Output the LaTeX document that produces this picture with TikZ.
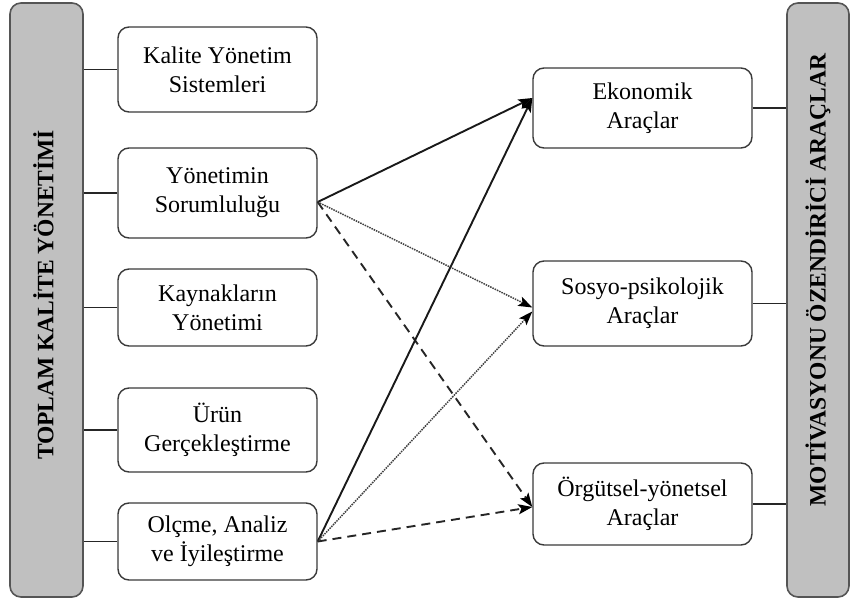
\documentclass[tikz,border=0pt]{standalone}
\usepackage{fontspec}
\setmainfont{Liberation Serif}
\usetikzlibrary{arrows.meta,calc}
\definecolor{barfill}{HTML}{C0C0C0}
\definecolor{barline}{HTML}{555555}
\definecolor{boxline}{HTML}{3A3A3A}
\begin{document}
\begin{tikzpicture}[x=1bp,y=-1bp,
  bar/.style={draw=barline, fill=barfill, line width=1.6bp, rounded corners=11bp, inner sep=0pt},
  bartext/.style={font=\bfseries\fontsize{23.5bp}{28bp}\selectfont, inner sep=0pt},
  box/.style={draw=boxline, fill=white, line width=1.4bp, rounded corners=11bp, align=center,
              font=\fontsize{24bp}{29bp}\selectfont, inner sep=0pt},
  lbox/.style={box, minimum width=199bp},
  rbox/.style={box, minimum width=219bp},
  link/.style={draw=black!85, line width=1.5bp},
  arr/.style={-{Stealth[length=14bp,width=10bp,inset=3bp,color=black]}},
  solidarr/.style={arr, line width=1.9bp, draw=black!90},
  dotarr/.style={arr, line width=1.5bp, densely dotted, draw=black!75},
  dasharr/.style={arr, line width=1.9bp, dash pattern=on 9bp off 6bp, draw=black!85}
]
\useasboundingbox (0,0) rectangle (850,602);

% bars
\node[bar, minimum width=73bp, minimum height=594bp] (L) at (46.5,300) {};
\node[bartext, rotate=90] (Lt) at ([xshift=-3bp,yshift=5bp]L.center) {TOPLAM KALİTE YÖNETİMİ};
\node[bar, minimum width=62bp, minimum height=594bp] (R) at (818,300) {};
\node[bartext, rotate=90] (Rt) at ([yshift=20bp]R.center) {MOTİVASYONU ÖZENDİRİCİ ARAÇLAR};

% left boxes
\node[lbox, minimum height=85bp] (b1) at (217.5,69.5) {Kalite Yönetim\\Sistemleri};
\node[lbox, minimum height=90bp] (b2) at (217.5,193) {Yönetimin\\Sorumluluğu};
\node[lbox, minimum height=77bp] (b3) at (217.5,307.5) {Kaynakların\\Yönetimi};
\node[lbox, minimum height=84bp] (b4) at (217.5,430) {Ürün\\Gerçekleştirme};
\node[lbox, minimum height=77bp] (b5) at (217.5,541.5) {Olçme, Analiz\\ve İyileştirme};

% right boxes
\node[rbox, minimum height=80bp] (r1) at (642.5,108) {Ekonomik\\Araçlar};
\node[rbox, minimum height=85bp] (r2) at (642.5,303.5) {Sosyo-psikolojik\\Araçlar};
\node[rbox, minimum height=82bp] (r3) at (642.5,504) {Örgütsel-yönetsel\\Araçlar};

% links bar - boxes
\foreach \b in {b1,b2,b3,b4,b5}{
  \draw[link] (\b.west) -- (\b.west -| L.east);
}
\foreach \b in {r1,r2,r3}{
  \draw[link] (\b.east) -- (\b.east -| R.west);
}

% arrow end points
\coordinate (s2) at ([yshift=-9bp]b2.east);
\coordinate (s5) at (b5.east);
\coordinate (e1) at ([yshift=10bp]r1.west);
\coordinate (e2a) at ([yshift=-4bp]r2.west);
\coordinate (e2b) at ([yshift=-8bp]r2.west);
\coordinate (e3) at ([yshift=-3bp]r3.west);

\draw[solidarr] (s2) -- (e1);
\draw[dotarr] (s2) -- (e2a);
\draw[dasharr] (s2) -- (e3);
\draw[solidarr] (s5) -- (e1);
\draw[dotarr] (s5) -- (e2b);
\draw[dasharr] (s5) -- (e3);
\end{tikzpicture}
\end{document}
